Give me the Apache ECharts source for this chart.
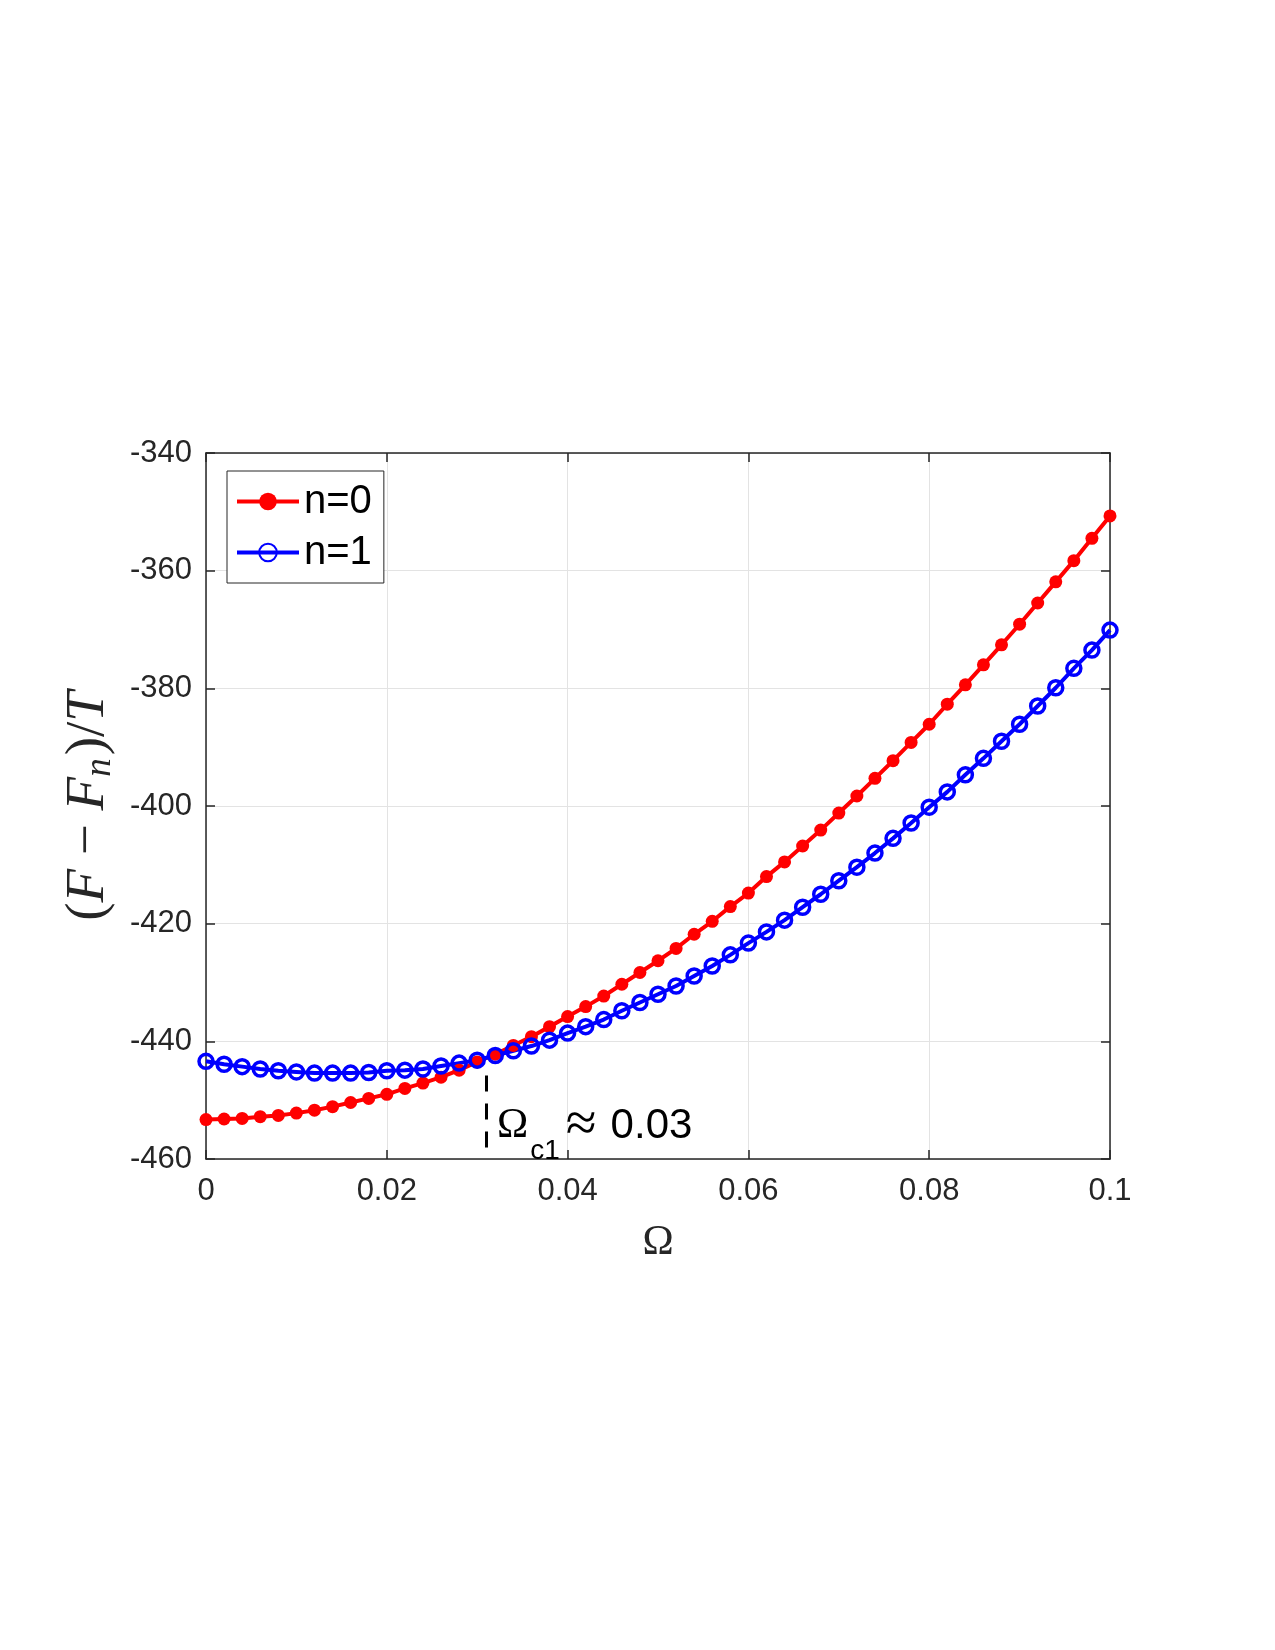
<!DOCTYPE html>
<html>
<head>
<meta charset="utf-8">
<script src="https://cdn.jsdelivr.net/npm/echarts@6/dist/echarts.min.js"></script>
<style>
  html, body { margin: 0; padding: 0; background: #fff; }
  #chart { width: 1275px; height: 1650px; }
</style>
</head>
<body>
<div id="chart"></div>
<script>
// rotation frequency Ω
const omega = [
  0, 0.002, 0.004, 0.006, 0.008, 0.01, 0.012, 0.014, 0.016, 0.018,
  0.02, 0.022, 0.024, 0.026, 0.028, 0.03, 0.032, 0.034, 0.036, 0.038,
  0.04, 0.042, 0.044, 0.046, 0.048, 0.05, 0.052, 0.054, 0.056, 0.058,
  0.06, 0.062, 0.064, 0.066, 0.068, 0.07, 0.072, 0.074, 0.076, 0.078,
  0.08, 0.082, 0.084, 0.086, 0.088, 0.09, 0.092, 0.094, 0.096, 0.098, 0.1
]

// (F - Fn)/T, n=0
const energyN0 = [
  -453.3, -453.2, -453.1, -452.8, -452.6, -452.2, -451.7, -451.1, -450.4, -449.7,
  -449.0, -448.0, -447.1, -446.1, -444.9, -443.5, -442.2, -440.7, -439.2, -437.5,
  -435.8, -434.1, -432.3, -430.3, -428.3, -426.3, -424.2, -421.8, -419.6, -417.1,
  -414.8, -412.0, -409.5, -406.8, -404.1, -401.2, -398.3, -395.3, -392.3, -389.2,
  -386.1, -382.7, -379.4, -376.0, -372.6, -369.1, -365.5, -361.9, -358.3, -354.5, -350.7
]

// (F - Fn)/T, n=1
const energyN1 = [
  -443.4, -443.9, -444.3, -444.7, -445.0, -445.2, -445.4, -445.4, -445.4, -445.3,
  -445.0, -444.9, -444.7, -444.2, -443.7, -443.2, -442.4, -441.6, -440.8, -439.8,
  -438.6, -437.5, -436.3, -434.8, -433.4, -432.0, -430.6, -428.9, -427.2, -425.3,
  -423.3, -421.4, -419.4, -417.2, -415.0, -412.7, -410.4, -408.0, -405.5, -402.9,
  -400.2, -397.6, -394.7, -391.9, -389.0, -386.1, -383.0, -379.9, -376.6, -373.5, -370.1
]

const seriesNames = ['n=0', 'n=1']

// 坐标轴范围
const xRange = [0, 0.1, 0.02]
const yRange = [-460, -340, 20]

// Ωc1 标记
const omegaC1 = 0.031
const dashTop = -445.8
const dashBottom = -460
const noteAt = [0.0322, -454.4]

const pair = (xs, ys) => xs.map((x, i) => [x, ys[i]])

const axisColor = '#262626'
const sans = 'Liberation Sans, Arial, sans-serif'
const serif = 'Liberation Serif, Times New Roman, serif'

const frameAxis = (extra) => Object.assign({
  type: 'value',
  axisLine: { show: true, onZero: false, lineStyle: { color: axisColor, width: 1.5 } },
  axisTick: { show: true, inside: true, length: 9, lineStyle: { color: axisColor, width: 1.5 } },
  axisLabel: { show: false },
  splitLine: { show: false }
}, extra)

const chart = echarts.init(document.getElementById('chart'))

const option = {
  backgroundColor: '#fff',
  animation: false,
  grid: { left: 206, top: 453, width: 904, height: 706, outerBoundsMode: 'none' },
  legend: {
    data: seriesNames,
    orient: 'vertical',
    left: 227,
    top: 471,
    itemWidth: 62,
    itemHeight: 22,
    itemGap: 10,
    padding: [10, 12, 10, 8],
    borderColor: '#262626',
    borderWidth: 1,
    backgroundColor: '#fff',
    lineStyle: { width: 4 },
    textStyle: { fontFamily: sans, fontSize: 40, color: '#000', lineHeight: 41 }
  },
  xAxis: [
    frameAxis({
      min: xRange[0], max: xRange[1], interval: xRange[2], position: 'bottom',
      axisLabel: {
        show: true, margin: 17, fontFamily: sans, fontSize: 31, color: axisColor,
        formatter: v => String(Math.round(v * 100) / 100)
      },
      splitLine: { show: true, lineStyle: { color: '#e3e3e3', width: 1 } },
      name: 'Ω',
      nameLocation: 'middle',
      nameGap: 63,
      nameTextStyle: { fontFamily: serif, fontSize: 42, color: axisColor }
    }),
    frameAxis({ min: xRange[0], max: xRange[1], interval: xRange[2], position: 'top' })
  ],
  yAxis: [
    frameAxis({
      min: yRange[0], max: yRange[1], interval: yRange[2], position: 'left',
      axisLabel: { show: true, margin: 14, fontFamily: sans, fontSize: 31, color: axisColor },
      splitLine: { show: true, lineStyle: { color: '#e3e3e3', width: 1 } },
      name: '{r|(}{i|F}{r| − }{i|F}{s|n}{r|)/}{i|T}',
      nameLocation: 'middle',
      nameGap: 70,
      nameRotate: 90,
      nameTextStyle: {
        color: axisColor,
        rich: {
          r: { fontFamily: serif, fontSize: 55, color: axisColor },
          i: { fontFamily: serif, fontSize: 55, fontStyle: 'italic', color: axisColor },
          s: { fontFamily: serif, fontSize: 37, fontStyle: 'italic', color: axisColor, padding: [24, 3, 0, 0] }
        }
      }
    }),
    frameAxis({ min: yRange[0], max: yRange[1], interval: yRange[2], position: 'right' })
  ],
  series: [
    {
      name: seriesNames[0],
      type: 'line',
      data: pair(omega, energyN0),
      symbol: 'circle',
      symbolSize: 13,
      color: '#ff0000',
      itemStyle: { color: '#ff0000' },
      lineStyle: { color: '#ff0000', width: 4 },
      markLine: {
        silent: true,
        symbol: 'none',
        label: { show: false },
        lineStyle: { color: '#000', width: 3, type: [16, 12] },
        data: [[{ coord: [omegaC1, dashTop] }, { coord: [omegaC1, dashBottom] }]]
      }
    },
    {
      name: seriesNames[1],
      type: 'line',
      data: pair(omega, energyN1),
      symbol: 'circle',
      symbolSize: 14,
      color: '#0000ff',
      itemStyle: { color: 'rgba(255,255,255,0)', borderColor: '#0000ff', borderWidth: 3.5 },
      lineStyle: { color: '#0000ff', width: 4 }
    }
  ]
}

chart.setOption(option)

// 注释 Ωc1 ≈ 0.03
const p = chart.convertToPixel({ xAxisIndex: 0, yAxisIndex: 0 }, noteAt)
chart.setOption({
  graphic: [{
    type: 'text',
    x: p[0],
    y: p[1],
    z: 100,
    style: {
      text: '{om|Ω}{sub|c1}{ap|≈}{num|0.03}',
      verticalAlign: 'middle',
      align: 'left',
      rich: {
        om: { fontFamily: serif, fontSize: 42, fill: '#000', lineHeight: 78 },
        sub: { fontFamily: sans, fontSize: 28, fill: '#000', verticalAlign: 'bottom', padding: [0, 0, 0, 2] },
        ap: { fontFamily: serif, fontSize: 56, fill: '#000', padding: [0, 14, 0, 6] },
        num: { fontFamily: sans, fontSize: 42, fill: '#000' }
      }
    }
  }]
})

window.addEventListener('resize', () => chart.resize())
</script>
</body>
</html>
